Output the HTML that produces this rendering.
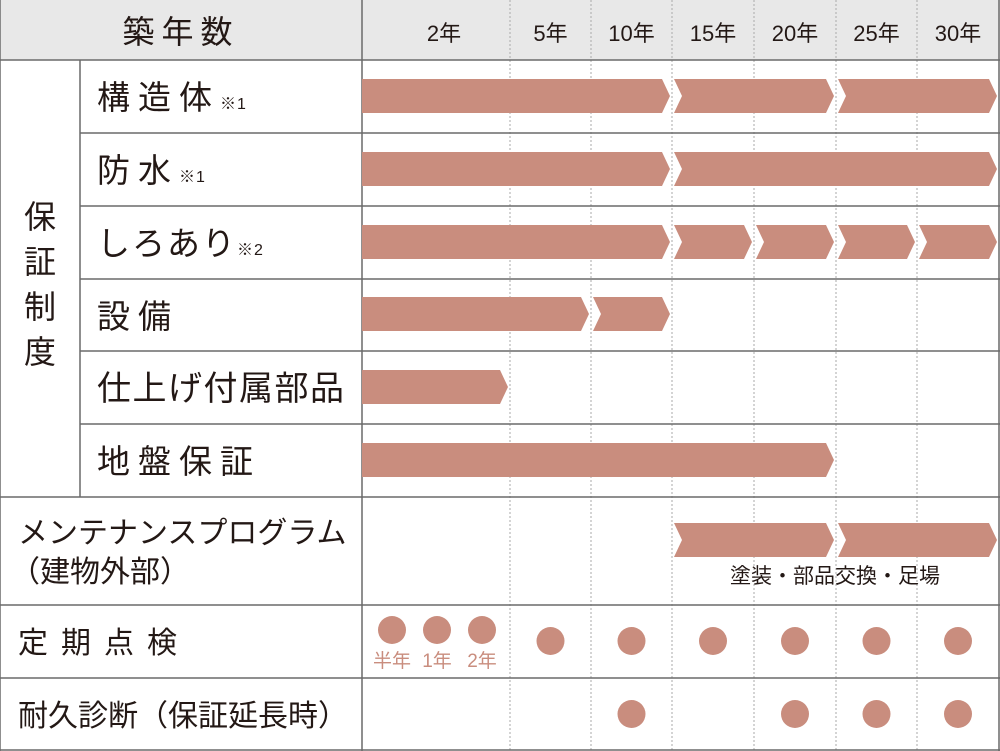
<!DOCTYPE html>
<html><head><meta charset="utf-8"><style>
body{margin:0;background:#fff;}
svg{display:block;}
text{font-family:"Liberation Sans","Noto Sans CJK JP",sans-serif;fill:#231815;}
</style></head><body>
<svg id="c" width="1000" height="751" viewBox="0 0 1000 751" xmlns="http://www.w3.org/2000/svg">
<rect x="0" y="0" width="1000" height="60" fill="#e8e8e8"/>
<g id="grid"></g>
<g id="labels">
<text x="181" y="43" font-size="32" text-anchor="middle" letter-spacing="7">築年数</text>
<text x="40" y="228" font-size="32" text-anchor="middle">保</text>
<text x="40" y="273" font-size="32" text-anchor="middle">証</text>
<text x="40" y="318" font-size="32" text-anchor="middle">制</text>
<text x="40" y="363" font-size="32" text-anchor="middle">度</text>
<text x="97" y="109" font-size="33" letter-spacing="8">構造体<tspan font-size="16" letter-spacing="1">※1</tspan></text>
<text x="97" y="182" font-size="33" letter-spacing="8">防水<tspan font-size="16" letter-spacing="1">※1</tspan></text>
<text x="97" y="255" font-size="33" letter-spacing="2">しろあり<tspan font-size="16" letter-spacing="1">※2</tspan></text>
<text x="97" y="328" font-size="33" letter-spacing="8">設備</text>
<text x="97" y="400" font-size="34" letter-spacing="1.5">仕上げ付属部品</text>
<text x="97" y="473" font-size="33" letter-spacing="8">地盤保証</text>
<text x="18" y="543" font-size="30">メンテナンスプログラム</text>
<text x="10" y="582" font-size="30">（建物外部）</text>
<text x="18" y="653" font-size="30" letter-spacing="13">定期点検</text>
<text x="18" y="726" font-size="30" textLength="330">耐久診断（保証延長時）</text>
<text x="835" y="583" font-size="21" text-anchor="middle">塗装・部品交換・足場</text>
</g>
<g id="marks"></g>
</svg>
<script>
const years=['2年','5年','10年','15年','20年','25年','30年'];
const edges=[362,510,591,672,754,836,917,999];
// bar segments per row: [startColumnEdgeIndex, endColumnEdgeIndex]
const barStructure=[[0,3],[3,5],[5,7]];
const barWaterproof=[[0,3],[3,7]];
const barTermite=[[0,3],[3,4],[4,5],[5,6],[6,7]];
const barEquipment=[[0,2],[2,3]];
const barFinish=[[0,1]];
const barGround=[[0,5]];
const barMaintenance=[[3,5],[5,7]];
const inspectionEarly=['半年','1年','2年'];
const inspectionCols=[1,2,3,4,5,6];
const diagnosisCols=[2,4,5,6];
const NS='http://www.w3.org/2000/svg';
const grid=document.getElementById('grid');
const marks=document.getElementById('marks');
const rowEdges=[0,60,133,206,279,351,424,497,605,678,751];
function mk(t,a,p){const e=document.createElementNS(NS,t);for(const k in a)e.setAttribute(k,a[k]);p.appendChild(e);return e;}
const colX=i=>edges[i];
for(let i=1;i<edges.length-1;i++){
 const l=mk('line',{x1:colX(i),x2:colX(i),y1:0,y2:751,stroke:'#aaa','stroke-width':1,'stroke-dasharray':'2,2'},grid);
 
 
}
for(let r=1;r<rowEdges.length-1;r++){
 const x1=(r>=2&&r<=6)?80:0;
 const l=mk('line',{x1:x1,x2:1000,y1:rowEdges[r],y2:rowEdges[r],stroke:'#6a6a6a','stroke-width':1.5},grid);
 
 
}
[[0,0,0,751],[999,0,999,751],[0,750,1000,750],[362,0,362,751],[80,60,80,497]].forEach(c=>{
 const l=mk('line',{x1:c[0],y1:c[1],x2:c[2],y2:c[3],stroke:'#6a6a6a','stroke-width':1.5},grid);
 
 
});
years.forEach((y,i)=>{
 const t=mk('text',{x:(colX(i)+colX(i+1))/2+(i===0?8:0),y:41,'font-size':22,'text-anchor':'middle'},marks);
 t.textContent=y;
 
 
});
const col='#c98d7e';
function bars(segs,cy,h,name){
 segs.forEach((s,k)=>{
  const x0=colX(s[0])+(s[0]===0?0:2), x1=colX(s[1])-2, d=8, t=cy-h/2, b=cy+h/2;
  let p=`M${x0},${t} L${x1-d},${t} L${x1},${cy} L${x1-d},${b} L${x0},${b}`;
  if(s[0]!==0) p+=` L${x0+d},${cy}`;
  p+=' Z';
  const e=mk('path',{d:p,fill:col},marks);
  
  
 });
}
bars(barStructure,96,34,'structure');
bars(barWaterproof,169,34,'waterproof');
bars(barTermite,242,34,'termite');
bars(barEquipment,314,34,'equipment');
bars(barFinish,387,34,'finish-parts');
bars(barGround,460,34,'ground');
bars(barMaintenance,540,34,'maintenance');
inspectionEarly.forEach((lab,i)=>{
 const cx=392+i*45;
 const c=mk('circle',{cx:cx,cy:630,r:14,fill:col},marks);
 
 
 const t=mk('text',{x:cx,y:667,'font-size':19,'text-anchor':'middle',style:'fill:#c98d7e'},marks);
 t.textContent=lab;
 
 
});
inspectionCols.forEach(i=>{
 const c=mk('circle',{cx:(colX(i)+colX(i+1))/2,cy:641,r:14,fill:col},marks);
 
 
});
diagnosisCols.forEach(i=>{
 const c=mk('circle',{cx:(colX(i)+colX(i+1))/2,cy:714,r:14,fill:col},marks);
 
 
});
</script>
</body></html>
